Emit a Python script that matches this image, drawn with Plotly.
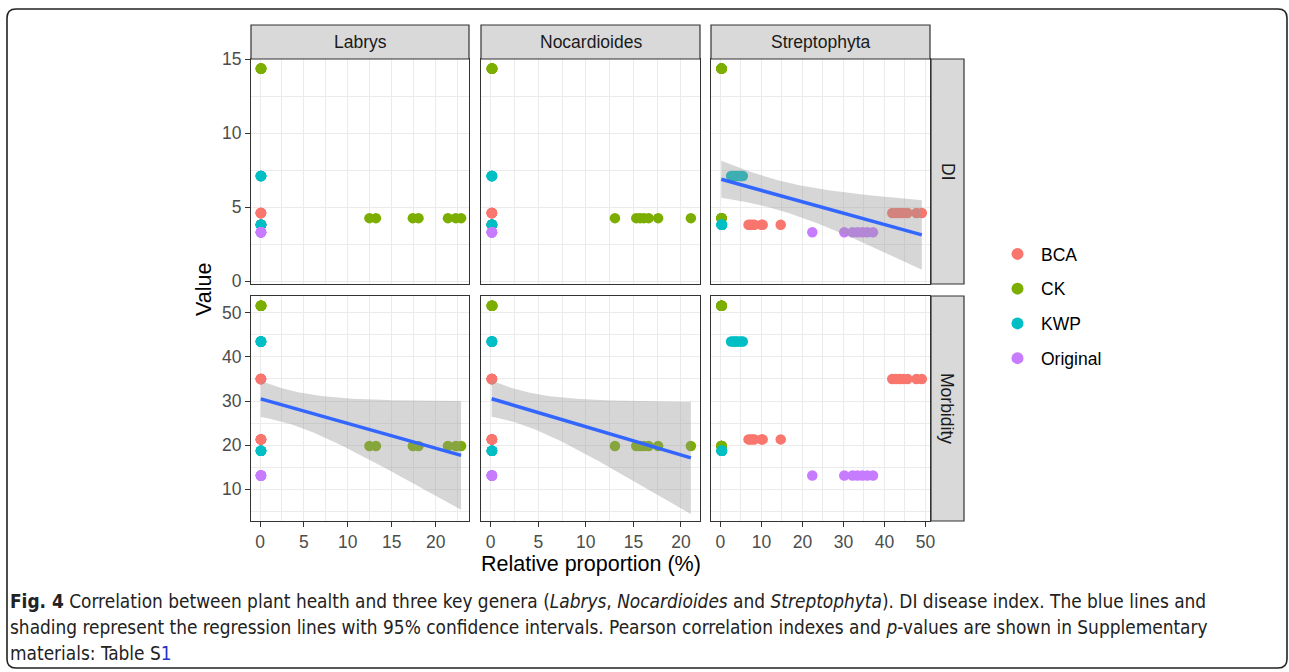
import numpy as np
import plotly.graph_objects as go

W, H = 1289, 672

# ---------------- data (one entry per sample) ----------------
treatment = (
    ["CK"] * 7 + ["CK"] * 7 +
    ["KWP"] * 7 + ["KWP"] * 7 +
    ["BCA"] * 7 + ["BCA"] * 7 +
    ["Original"] * 7
)

labrys = [
    0.10, 0.12, 0.08, 0.15, 0.11, 0.09, 0.13,
    12.46, 13.20, 17.40, 18.05, 21.40, 22.30, 22.90,
    0.10, 0.12, 0.09, 0.11, 0.13, 0.08, 0.10,
    0.11, 0.10, 0.12, 0.09, 0.10, 0.13, 0.11,
    0.10, 0.11, 0.09, 0.12, 0.10, 0.08, 0.11,
    0.12, 0.10, 0.09, 0.11, 0.10, 0.12, 0.10,
    0.10, 0.11, 0.12, 0.09, 0.10, 0.11, 0.10,
]

nocardioides = [
    0.12, 0.15, 0.10, 0.18, 0.14, 0.11, 0.16,
    13.06, 15.30, 15.70, 16.10, 16.60, 17.60, 21.04,
    0.12, 0.14, 0.10, 0.13, 0.15, 0.11, 0.12,
    0.13, 0.12, 0.14, 0.11, 0.12, 0.15, 0.13,
    0.12, 0.13, 0.11, 0.14, 0.12, 0.10, 0.13,
    0.14, 0.12, 0.11, 0.13, 0.12, 0.14, 0.12,
    0.12, 0.13, 0.14, 0.11, 0.12, 0.13, 0.12,
]

streptophyta = [
    0.25, 0.30, 0.22, 0.35, 0.28, 0.20, 0.32,
    0.25, 0.28, 0.22, 0.30, 0.26, 0.24, 0.29,
    2.60, 3.10, 3.50, 3.90, 4.40, 5.00, 5.45,
    0.30, 0.35, 0.28, 0.40, 0.32, 0.26, 0.38,
    41.90, 42.80, 43.70, 44.60, 45.60, 47.80, 49.10,
    6.85, 7.30, 7.80, 8.30, 10.00, 10.30, 14.70,
    22.40, 30.20, 32.20, 33.40, 34.60, 35.80, 37.20,
]

di = [
    14.35, 14.35, 14.35, 14.35, 14.35, 14.35, 14.35,
    4.25, 4.25, 4.25, 4.25, 4.25, 4.25, 4.25,
    7.10, 7.10, 7.10, 7.10, 7.10, 7.10, 7.10,
    3.80, 3.80, 3.80, 3.80, 3.80, 3.80, 3.80,
    4.60, 4.60, 4.60, 4.60, 4.60, 4.60, 4.60,
    3.80, 3.80, 3.80, 3.80, 3.80, 3.80, 3.80,
    3.30, 3.30, 3.30, 3.30, 3.30, 3.30, 3.30,
]

morbidity = [
    51.6, 51.6, 51.6, 51.6, 51.6, 51.6, 51.6,
    19.8, 19.8, 19.8, 19.8, 19.8, 19.8, 19.8,
    43.5, 43.5, 43.5, 43.5, 43.5, 43.5, 43.5,
    18.7, 18.7, 18.7, 18.7, 18.7, 18.7, 18.7,
    35.0, 35.0, 35.0, 35.0, 35.0, 35.0, 35.0,
    21.3, 21.3, 21.3, 21.3, 21.3, 21.3, 21.3,
    13.1, 13.1, 13.1, 13.1, 13.1, 13.1, 13.1,
]

genera = ["Labrys", "Nocardioides", "Streptophyta"]
indices = ["DI", "Morbidity"]
treatments = ["BCA", "CK", "KWP", "Original"]
smooth_panels = [("Labrys", "Morbidity"), ("Nocardioides", "Morbidity"), ("Streptophyta", "DI")]

x_data = {"Labrys": labrys, "Nocardioides": nocardioides, "Streptophyta": streptophyta}
y_data = {"DI": di, "Morbidity": morbidity}

# ---------------- style ----------------
COLORS = {"BCA": "#F8766D", "CK": "#7CAE00", "KWP": "#00BFC4", "Original": "#C77CFF"}
FONT = "Liberation Sans, Arial, sans-serif"
T975 = 2.0117  # Student t quantile, df = 47

def px(xp):
    return xp / W

def py(yp):
    return 1 - yp / H

col_px = [(251, 469), (481, 700), (711, 930)]
row_px = [(59, 284), (296, 521)]
x_ranges = [[-1.03, 23.8], [-1.02, 22.0], [-2.3, 51.1]]
x_major = [5, 5, 10]
y_ranges = [[-0.2, 15.0], [2.8, 53.8]]
y_major = [5, 10]

def fit_ci(x, y, n=100):
    x = np.asarray(x, float)
    y = np.asarray(y, float)
    N = len(x)
    xm, ym = x.mean(), y.mean()
    sxx = ((x - xm) ** 2).sum()
    b = ((x - xm) * (y - ym)).sum() / sxx
    a = ym - b * xm
    s = np.sqrt(((y - (a + b * x)) ** 2).sum() / (N - 2))
    xs = np.linspace(x.min(), x.max(), n)
    f = a + b * xs
    se = s * np.sqrt(1.0 / N + (xs - xm) ** 2 / sxx)
    return xs, f, f - T975 * se, f + T975 * se

fig = go.Figure()
layout = {}

GRID = "#EBEBEB"
BORDER = "#333333"
TICKFONT = dict(family=FONT, size=17.5, color="#4D4D4D")

idx = 0
panel_axes = {}
for r, ind in enumerate(indices):
    for c, gen in enumerate(genera):
        idx += 1
        xa = "xaxis" if idx == 1 else f"xaxis{idx}"
        ya = "yaxis" if idx == 1 else f"yaxis{idx}"
        xref = "x" if idx == 1 else f"x{idx}"
        yref = "y" if idx == 1 else f"y{idx}"
        panel_axes[(gen, ind)] = (xref, yref)
        bottom = r == 1
        left = c == 0
        layout[xa] = dict(
            domain=[px(col_px[c][0]), px(col_px[c][1])],
            anchor=yref, range=x_ranges[c], dtick=x_major[c], tick0=0,
            showgrid=True, gridcolor=GRID, gridwidth=1.4, zeroline=False,
            minor=dict(dtick=x_major[c] / 2, tick0=0, showgrid=True, gridcolor=GRID, gridwidth=0.7),
            showline=True, mirror=True, linecolor=BORDER, linewidth=1.2,
            ticks="outside" if bottom else "", ticklen=5, tickwidth=1.2, tickcolor=BORDER,
            showticklabels=bottom, tickfont=TICKFONT, automargin=False, fixedrange=True,
        )
        layout[ya] = dict(
            domain=[py(row_px[r][1]), py(row_px[r][0])],
            anchor=xref, range=y_ranges[r], dtick=y_major[r], tick0=0,
            showgrid=True, gridcolor=GRID, gridwidth=1.4, zeroline=False,
            minor=dict(dtick=y_major[r] / 2, tick0=0, showgrid=True, gridcolor=GRID, gridwidth=0.7),
            showline=True, mirror=True, linecolor=BORDER, linewidth=1.2,
            ticks="outside" if left else "", ticklen=5, tickwidth=1.2, tickcolor=BORDER,
            showticklabels=left, tickfont=TICKFONT, automargin=False, fixedrange=True,
        )

# points
trt = np.array(treatment)
for t in treatments:
    mask = trt == t
    first = True
    for ind in indices:
        for gen in genera:
            xref, yref = panel_axes[(gen, ind)]
            fig.add_trace(go.Scatter(
                x=np.asarray(x_data[gen])[mask], y=np.asarray(y_data[ind])[mask],
                mode="markers", xaxis=xref, yaxis=yref,
                marker=dict(color=COLORS[t], size=10.5, line=dict(width=0)),
                name=t, legendgroup=t, showlegend=first,
            ))
            first = False

# regression lines with 95% CI
for gen, ind in smooth_panels:
    xref, yref = panel_axes[(gen, ind)]
    xs, f, lo, hi = fit_ci(x_data[gen], y_data[ind])
    fig.add_trace(go.Scatter(
        x=np.concatenate([xs, xs[::-1]]), y=np.concatenate([hi, lo[::-1]]),
        fill="toself", fillcolor="rgba(153,153,153,0.4)", line=dict(width=0),
        mode="lines", xaxis=xref, yaxis=yref, showlegend=False, hoverinfo="skip",
    ))
    fig.add_trace(go.Scatter(
        x=xs, y=f, mode="lines", line=dict(color="#3366FF", width=3.5),
        xaxis=xref, yaxis=yref, showlegend=False,
    ))

shapes = []
annotations = []
STRIP_FILL = "#D9D9D9"
STRIP_FONT = dict(family=FONT, size=17.5, color="#1A1A1A")

# top strips
for c, gen in enumerate(genera):
    x0, x1 = col_px[c]
    shapes.append(dict(type="rect", xref="paper", yref="paper",
                       x0=px(x0), x1=px(x1), y0=py(59), y1=py(25),
                       fillcolor=STRIP_FILL, line=dict(color=BORDER, width=1.2)))
    annotations.append(dict(text=gen, xref="paper", yref="paper",
                            x=px((x0 + x1) / 2), y=py(42), showarrow=False,
                            font=STRIP_FONT, xanchor="center", yanchor="middle"))
# right strips
for r, ind in enumerate(indices):
    y0, y1 = row_px[r]
    shapes.append(dict(type="rect", xref="paper", yref="paper",
                       x0=px(931), x1=px(964), y0=py(y1), y1=py(y0),
                       fillcolor=STRIP_FILL, line=dict(color=BORDER, width=1.2)))
    annotations.append(dict(text=ind, xref="paper", yref="paper",
                            x=px(947.5), y=py((y0 + y1) / 2), showarrow=False,
                            font=STRIP_FONT, textangle=90,
                            xanchor="center", yanchor="middle"))

# axis titles
annotations.append(dict(text="Value", xref="paper", yref="paper", x=px(204), y=py(290),
                        showarrow=False, textangle=-90, xanchor="center", yanchor="middle",
                        font=dict(family=FONT, size=21.5, color="black")))
annotations.append(dict(text="Relative proportion (%)", xref="paper", yref="paper",
                        x=px(590.5), y=py(564), showarrow=False,
                        xanchor="center", yanchor="middle",
                        font=dict(family=FONT, size=21.5, color="black")))

# caption
CAP_FONT = dict(family="Liberation Sans Narrow, DejaVu Sans Condensed, Roboto, sans-serif",
                size=18.9, color="#222222")
caption = [
    "<b>Fig. 4</b> Correlation between plant health and three key genera (<i>Labrys</i>, "
    "<i>Nocardioides</i> and <i>Streptophyta</i>). DI disease index. The blue lines and",
    "shading represent the regression lines with 95% confidence intervals. Pearson correlation "
    "indexes and <i>p</i>-values are shown in Supplementary",
    "materials: Table S<span style='color:#2233cc'>1</span>",
]
for i, line in enumerate(caption):
    annotations.append(dict(text=line, xref="paper", yref="paper", x=px(8), y=py(601 + 26 * i),
                            showarrow=False, xanchor="left", yanchor="middle", align="left",
                            font=CAP_FONT))

# card border (rounded rectangle)
rad = 9
x0, y0, x1, y1 = 7, 9, 1287, 668
path = (f"M {px(x0)},{py(y0 + rad)} L {px(x0)},{py(y1 - rad)} "
        f"Q {px(x0)},{py(y1)} {px(x0 + rad)},{py(y1)} L {px(x1 - rad)},{py(y1)} "
        f"Q {px(x1)},{py(y1)} {px(x1)},{py(y1 - rad)} L {px(x1)},{py(y0 + rad)} "
        f"Q {px(x1)},{py(y0)} {px(x1 - rad)},{py(y0)} L {px(x0 + rad)},{py(y0)} "
        f"Q {px(x0)},{py(y0)} {px(x0)},{py(y0 + rad)} Z")
shapes.append(dict(type="path", xref="paper", yref="paper", path=path,
                   line=dict(color="#222222", width=1.6), fillcolor="rgba(0,0,0,0)"))

fig.update_layout(
    **layout,
    width=W, height=H, autosize=False,
    margin=dict(l=0, r=0, t=0, b=0, pad=0, autoexpand=False),
    paper_bgcolor="white", plot_bgcolor="white",
    shapes=shapes, annotations=annotations,
    showlegend=True,
    legend=dict(x=px(994), y=py(236), xanchor="left", yanchor="top",
                font=dict(family=FONT, size=17.5, color="black"),
                traceorder="grouped", tracegroupgap=9, itemsizing="constant",
                itemwidth=37, bgcolor="rgba(0,0,0,0)"),
    font=dict(family=FONT),
)

fig.write_html("out.html")
